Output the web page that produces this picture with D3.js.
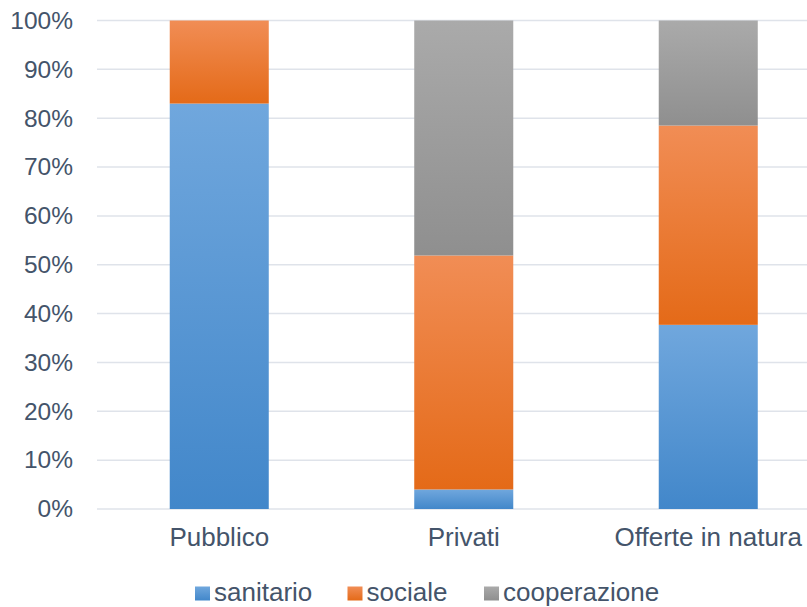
<!DOCTYPE html>
<html><head><meta charset="utf-8">
<script src="https://cdn.jsdelivr.net/npm/d3@7"></script>
<style>html,body{margin:0;padding:0;background:#fff}svg{display:block}</style>
</head><body>
<script>
const categories = ["Pubblico", "Privati", "Offerte in natura"];
const seriesNames = ["sanitario", "sociale", "cooperazione"];
const sanitario = [83, 4, 37.7];
const sociale = [17, 47.9, 40.8];
const cooperazione = [0, 48.1, 21.5];
const yTicks = [0, 10, 20, 30, 40, 50, 60, 70, 80, 90, 100];

const W = 807, H = 607;
const svg = d3.select("body").append("svg").attr("width", W).attr("height", H);
const textColor = "#44546a";
const font = "'Liberation Sans', Arial, sans-serif";

const colors = {
  sanitario: ["#70a7dd", "#4287ca"],
  sociale: ["#f18d55", "#e46a18"],
  cooperazione: ["#aaaaaa", "#8f8f8f"]
};
const defs = svg.append("defs");
seriesNames.forEach(s => {
  const g = defs.append("linearGradient").attr("id", "g-" + s)
    .attr("x1", 0).attr("y1", 0).attr("x2", 0).attr("y2", 1);
  g.append("stop").attr("offset", "0%").attr("stop-color", colors[s][0]);
  g.append("stop").attr("offset", "100%").attr("stop-color", colors[s][1]);
});

const x0 = 97, y0 = 509, y100 = 20.5;
const y = d3.scaleLinear().domain([0, 100]).range([y0, y100]);
const x = d3.scaleBand().domain(categories).range([x0, x0 + 733.5]).paddingInner(0.595).paddingOuter(0.2975);

// gridlines
svg.append("g").selectAll("line").data(yTicks).join("line")
  .attr("x1", x0).attr("x2", W)
  .attr("y1", d => y(d)).attr("y2", d => y(d))
  .attr("stroke", "#dfe3ea").attr("stroke-width", 1.5);

// y axis labels
const yAxis = d3.axisLeft(y).tickValues(yTicks).tickFormat(d => d + "%").tickSize(0).tickPadding(0);
const ya = svg.append("g").attr("transform", "translate(73,0)").call(yAxis);
ya.select(".domain").remove();
ya.selectAll("text").attr("fill", textColor).style("font-family", font).style("font-size", "24.5px");

// stacked data
const rows = categories.map((c, i) => ({cat: c, sanitario: sanitario[i], sociale: sociale[i], cooperazione: cooperazione[i]}));
const stack = d3.stack().keys(seriesNames)(rows);
svg.append("g").selectAll("g").data(stack).join("g")
  .attr("fill", d => "url(#g-" + d.key + ")")
  .selectAll("rect").data(d => d.filter(p => p[1] - p[0] > 0)).join("rect")
  .attr("x", d => x(d.data.cat))
  .attr("width", x.bandwidth())
  .attr("y", d => y(d[1]))
  .attr("height", d => y(d[0]) - y(d[1]));

// x axis labels
const xAxis = d3.axisBottom(x).tickSize(0).tickPadding(0);
const xa = svg.append("g").attr("transform", "translate(0,528)").call(xAxis);
xa.select(".domain").remove();
xa.selectAll("text").attr("fill", textColor).style("font-family", font).style("font-size", "26px");

// legend
const legendX = [195, 347.5, 484];
const lg = svg.append("g").selectAll("g").data(seriesNames).join("g")
  .attr("transform", (d, i) => `translate(${legendX[i]},586.5)`);
lg.append("rect").attr("width", 15).attr("height", 14).attr("fill", d => "url(#g-" + d + ")");
lg.append("text").attr("x", 19).attr("y", 14.5).text(d => d)
  .attr("fill", textColor).style("font-family", font).style("font-size", "26px");
</script>
</body></html>
